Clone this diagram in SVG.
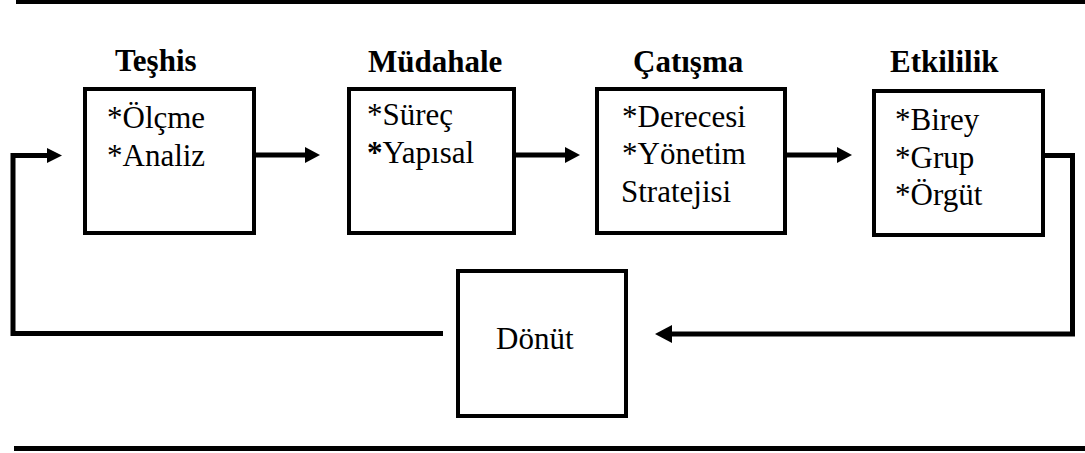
<svg xmlns="http://www.w3.org/2000/svg" width="1085" height="453" viewBox="0 0 1085 453">
<style>
.box{fill:#fff;stroke:#000;stroke-width:4}
text{font-family:'Liberation Serif','DejaVu Serif',serif;font-size:31px;fill:#000}
.h{font-weight:bold}
.ln{fill:none;stroke:#000;stroke-width:5}
.ah{fill:#000}
</style>
<rect x="0" y="0" width="1085" height="453" fill="#fff"/>
<rect x="16" y="0" width="1069" height="4" fill="#000"/>
<rect x="14" y="446" width="1071" height="5" fill="#000"/>
<g id="connectors">
<line class="ln" x1="256" y1="155" x2="306" y2="155"/>
<polygon class="ah" points="305,147 320,155 305,163"/>
<line class="ln" x1="516" y1="155" x2="566" y2="155"/>
<polygon class="ah" points="565,147 580,155 565,163"/>
<line class="ln" x1="787" y1="155" x2="838" y2="155"/>
<polygon class="ah" points="837,147 852,155 837,163"/>
<polyline class="ln" points="1045,155.5 1072.5,155.5 1072.5,334 671,334"/>
<polygon class="ah" points="672,325 655,334 672,343"/>
<polyline class="ln" points="443,333.5 13,333.5 13,155.5 48,155.5"/>
<polygon class="ah" points="47,148 62,155.5 47,163"/>
</g>
<g id="node-teshis" font-family="Liberation Serif, serif">
<text class="h" x="115" y="71">Teşhis</text>
<rect class="box" x="85" y="89" width="169" height="144"/>
<text x="107" y="128">*Ölçme</text>
<text x="107" y="166">*Analiz</text>
</g>
<g id="node-mudahale" font-family="Liberation Serif, serif">
<text class="h" x="368" y="72">Müdahale</text>
<rect class="box" x="349" y="89" width="165" height="144"/>
<text x="367" y="125">*Süreç</text>
<text x="367" y="163"><tspan font-weight="bold">*</tspan>Yapısal</text>
</g>
<g id="node-catisma" font-family="Liberation Serif, serif">
<text class="h" x="633" y="72">Çatışma</text>
<rect class="box" x="597" y="89" width="188" height="144"/>
<text x="622" y="127">*Derecesi</text>
<text x="622" y="164">*Yönetim</text>
<text x="621" y="202">Stratejisi</text>
</g>
<g id="node-etkililik" font-family="Liberation Serif, serif">
<text class="h" x="890" y="72">Etkililik</text>
<rect class="box" x="874" y="91" width="169" height="144"/>
<text x="895" y="130">*Birey</text>
<text x="895" y="168">*Grup</text>
<text x="895" y="205">*Örgüt</text>
</g>
<g id="node-donut" font-family="Liberation Serif, serif">
<rect class="box" x="458" y="271" width="168" height="145"/>
<text x="496" y="349">Dönüt</text>
</g>
</svg>
